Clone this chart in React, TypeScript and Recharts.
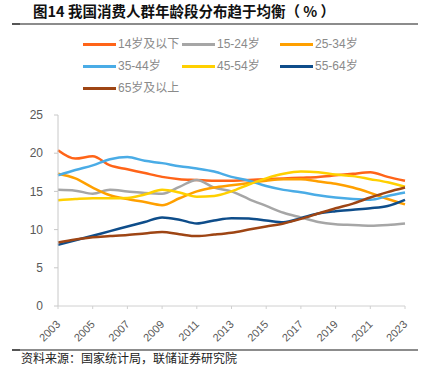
import React from 'react';
import { LineChart, Line, XAxis, YAxis } from 'recharts';

const years = [2003, 2004, 2005, 2006, 2007, 2008, 2009, 2010, 2011, 2012, 2013, 2014, 2015, 2016, 2017, 2018, 2019, 2020, 2021, 2022, 2023];
const yearTicks = [2003, 2005, 2007, 2009, 2011, 2013, 2015, 2017, 2019, 2021, 2023];
const valueTicks = [0, 5, 10, 15, 20, 25];

const age0_14 = [20.4, 19.3, 19.6, 18.4, 17.9, 17.4, 16.9, 16.6, 16.5, 16.4, 16.4, 16.5, 16.6, 16.7, 16.8, 16.9, 17.1, 17.3, 17.5, 16.9, 16.4];
const age15_24 = [15.2, 15.1, 14.7, 15.2, 15.0, 14.8, 14.7, 15.6, 16.5, 15.5, 15.0, 14.0, 13.1, 12.2, 11.6, 11.0, 10.7, 10.6, 10.5, 10.6, 10.8];
const age25_34 = [17.3, 16.7, 15.5, 14.5, 14.0, 13.6, 13.2, 14.1, 15.0, 15.5, 15.8, 16.1, 16.4, 16.6, 16.6, 16.3, 16.0, 15.5, 14.8, 14.0, 13.3];
const age35_44 = [17.1, 17.8, 18.4, 19.2, 19.5, 19.0, 18.7, 18.3, 18.0, 17.6, 16.9, 16.4, 15.7, 15.2, 14.9, 14.5, 14.2, 14.0, 13.9, 14.4, 14.85];
const age45_54 = [13.85, 14.0, 14.1, 14.1, 14.15, 14.6, 15.2, 14.85, 14.3, 14.4, 15.0, 15.9, 16.7, 17.3, 17.6, 17.5, 17.2, 17.0, 16.6, 16.2, 15.6];
const age55_64 = [8.0, 8.6, 9.2, 9.8, 10.4, 11.0, 11.6, 11.3, 10.8, 11.2, 11.5, 11.45, 11.2, 10.95, 11.5, 12.1, 12.4, 12.6, 12.8, 13.1, 13.9];
const age65 = [8.3, 8.7, 9.0, 9.15, 9.3, 9.5, 9.7, 9.4, 9.15, 9.35, 9.6, 10.0, 10.4, 10.8, 11.4, 12.1, 12.8, 13.4, 14.2, 14.9, 15.5];

const series = [
  { key: 'a0', name: '14岁及以下', values: age0_14, color: '#ff6418' },
  { key: 'a15', name: '15-24岁', values: age15_24, color: '#a6a6a6' },
  { key: 'a25', name: '25-34岁', values: age25_34, color: '#ffa000' },
  { key: 'a35', name: '35-44岁', values: age35_44, color: '#4aace6' },
  { key: 'a45', name: '45-54岁', values: age45_54, color: '#ffd000' },
  { key: 'a55', name: '55-64岁', values: age55_64, color: '#0e4d8a' },
  { key: 'a65', name: '65岁及以上', values: age65, color: '#9e4514' },
];

const data = years.map((year, i) => {
  const row: Record<string, number> = { year };
  series.forEach((s) => {
    row[s.key] = s.values[i];
  });
  return row;
});

const legendCols = [83, 182, 280];
const legendRows = [44, 66, 88];

const YearTick = (props: any) => {
  const { x, y, payload } = props;
  return (
    <g transform={`translate(${x + 3},${y + 14})`}>
      <text
        textAnchor="end"
        transform="rotate(-45)"
        fontSize={11}
        fill="#595959"
        fontFamily="'Liberation Sans', Arial, sans-serif"
      >
        {payload.value}
      </text>
    </g>
  );
};

const Rule = ({ top }: { top: number }) => (
  <>
    <div style={{ position: 'absolute', left: 12, top, width: 406, height: 1.5, background: '#8c8c8c' }} />
    <div style={{ position: 'absolute', left: 12, top, width: 8, height: 1.5, background: '#555' }} />
  </>
);

export default function App() {
  return (
    <div style={{ position: 'absolute', left: 0, top: 0, width: 433, height: 374, background: '#fff', overflow: 'hidden' }}>
      <div
        style={{
          position: 'absolute',
          left: 33,
          top: 2,
          fontSize: 14.5,
          fontWeight: 'bold',
          color: '#111',
          fontFamily: "'Noto Sans CJK SC', 'Liberation Sans', sans-serif",
          whiteSpace: 'nowrap',
          lineHeight: '18px',
        }}
      >
        图14 我国消费人群年龄段分布趋于均衡（ % ）
      </div>
      <Rule top={23} />

      {series.map((s, i) => {
        const left = legendCols[i % 3];
        const top = legendRows[Math.floor(i / 3)];
        return (
          <div key={s.key}>
            <div style={{ position: 'absolute', left, top: top - 1.5, width: 33, height: 3, background: s.color }} />
            <div
              style={{
                position: 'absolute',
                left: left + 35,
                top: top - 8,
                fontSize: 12,
                lineHeight: '16px',
                color: '#8a8a8a',
                whiteSpace: 'nowrap',
                fontFamily: "'Liberation Sans', 'Noto Sans CJK SC', sans-serif",
              }}
            >
              {s.name}
            </div>
          </div>
        );
      })}

      <div style={{ position: 'absolute', left: 0, top: 0 }}>
        <LineChart width={433} height={374} data={data} margin={{ top: 115, right: 28, bottom: 28, left: 0 }}>
          <XAxis
            dataKey="year"
            type="number"
            domain={[2003, 2023]}
            ticks={yearTicks}
            interval={0}
            stroke="#d0d0d0"
            tickSize={3}
            tick={<YearTick />}
            height={40}
          />
          <YAxis
            domain={[0, 25]}
            ticks={valueTicks}
            interval={0}
            width={58}
            stroke="#c8c8c8"
            tickSize={4}
            tickMargin={11}
            tick={{ fill: '#595959', fontSize: 12, fontFamily: "'Liberation Sans', Arial, sans-serif" }}
          />
          {series.map((s) => (
            <Line
              key={s.key}
              dataKey={s.key}
              name={s.name}
              type="monotone"
              stroke={s.color}
              strokeWidth={2.5}
              dot={false}
              isAnimationActive={false}
            />
          ))}
        </LineChart>
      </div>

      <Rule top={349} />
      <div
        style={{
          position: 'absolute',
          left: 21,
          top: 351,
          fontSize: 12,
          lineHeight: '14px',
          color: '#222',
          whiteSpace: 'nowrap',
          fontFamily: "'Noto Sans CJK SC', sans-serif",
        }}
      >
        资料来源：国家统计局，联储证券研究院
      </div>
    </div>
  );
}
